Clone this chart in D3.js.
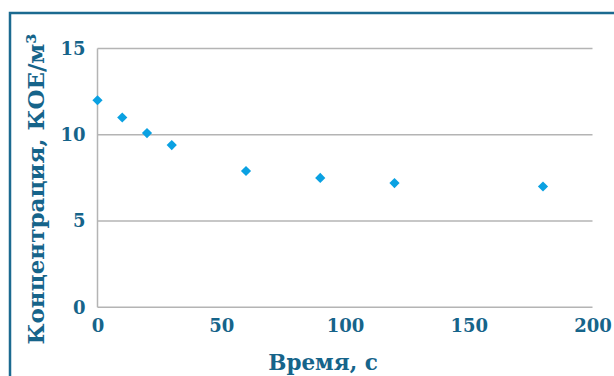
<!DOCTYPE html>
<html><head><meta charset="utf-8">
<script src="https://cdn.jsdelivr.net/npm/d3@7"></script>
<style>html,body{margin:0;padding:0;background:#fff;overflow:hidden}</style>
</head><body>
<svg id="c" width="614" height="376"></svg>
<script>
const times = [0, 10, 20, 30, 60, 90, 120, 180];
const concentrations = [12.0, 11.0, 10.1, 9.4, 7.9, 7.5, 7.2, 7.0];
const xTicks = [0, 50, 100, 150, 200];
const yTicks = [0, 5, 10, 15];
const xTitle = "Время, с";
const yTitle = "Концентрация, КОЕ/м³";

const svg = d3.select("#c");
const textColor = "#16648a";
const font = "'DejaVu Serif', serif";

svg.append("rect").attr("x", 10).attr("y", 13).attr("width", 700).attr("height", 500)
  .attr("fill", "none").attr("stroke", "#1b6a90").attr("stroke-width", 2.5);

const x = d3.scaleLinear().domain([0, 200]).range([97.5, 592.5]);
const y = d3.scaleLinear().domain([0, 15]).range([307.3, 48.5]);

const grid = svg.append("g");
grid.selectAll("line.h").data(yTicks).join("line")
  .attr("x1", x(0)).attr("x2", x(200))
  .attr("y1", d => y(d)).attr("y2", d => y(d))
  .attr("stroke", "#b4b4b4").attr("stroke-width", 1.5);
grid.append("line").attr("x1", x(0)).attr("x2", x(0)).attr("y1", y(15)).attr("y2", y(0))
  .attr("stroke", "#b4b4b4").attr("stroke-width", 1.5);

const yAxis = d3.axisLeft(y).tickValues(yTicks).tickSize(0).tickPadding(12);
const gy = svg.append("g").attr("transform", `translate(${x(0)},0)`).call(yAxis);
gy.select(".domain").remove();
gy.selectAll("text").attr("fill", textColor).attr("font-family", font)
  .attr("font-weight", "bold").attr("font-size", 18);

const xAxis = d3.axisBottom(x).tickValues(xTicks).tickSize(0).tickPadding(12);
const gx = svg.append("g").attr("transform", `translate(0,${y(0)})`).call(xAxis);
gx.select(".domain").remove();
gx.selectAll("text").attr("fill", textColor).attr("font-family", font)
  .attr("font-weight", "bold").attr("font-size", 18);

svg.append("g").selectAll("path").data(times).join("path")
  .attr("transform", (d, i) => `translate(${x(d)},${y(concentrations[i])}) rotate(45)`)
  .attr("d", d3.symbol().type(d3.symbolSquare).size(52)())
  .attr("fill", "#0aa1e2");

svg.append("text").attr("x", 323).attr("y", 370).attr("text-anchor", "middle")
  .attr("fill", textColor).attr("font-family", font).attr("font-weight", "bold")
  .attr("font-size", 21.5).text(xTitle);

svg.append("text").attr("transform", "translate(44,189) rotate(-90)")
  .attr("text-anchor", "middle")
  .attr("fill", textColor).attr("font-family", font).attr("font-weight", "bold")
  .attr("font-size", 23).text(yTitle);
</script>
</body></html>
